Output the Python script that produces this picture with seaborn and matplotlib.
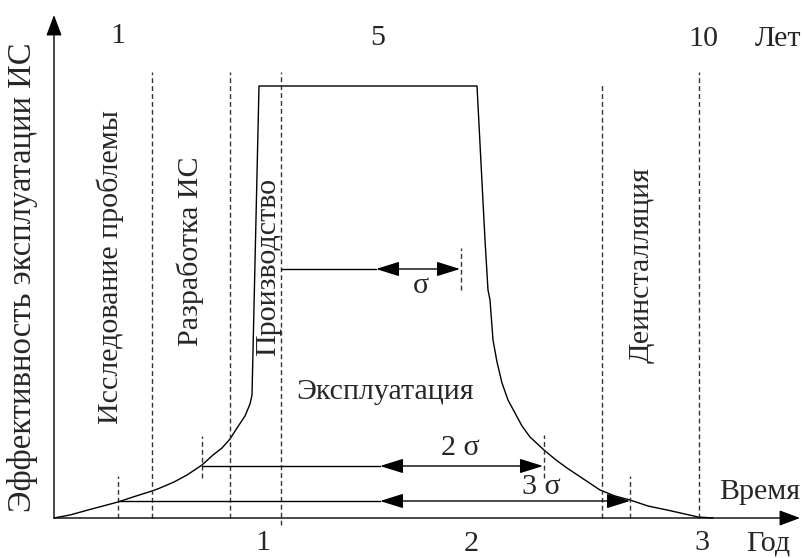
# Life cycle of an information system: effectiveness over time
import matplotlib
matplotlib.use('Agg')
import matplotlib.pyplot as plt
import seaborn as sns
import pandas as pd

# Curve of effectiveness (t = time units, e = effectiveness units)
curve_t = [0, 16, 34, 49, 64, 79, 98, 106, 120, 133, 148, 159, 168, 176, 183, 191, 196, 198, 205,
           423, 431, 434, 436, 439, 443, 448, 454, 461, 468, 476, 490, 502, 513, 531, 546, 561,
           576, 594, 613, 631, 644, 659]
curve_e = [0, 3, 8, 12, 16, 21, 27, 30, 36, 43, 53, 63, 70, 79, 90, 102, 114, 123, 432,
           432, 278, 228, 218, 178, 156, 135, 118, 105, 92, 81, 68, 58, 50, 38, 28, 22,
           18, 12, 8, 4, 1, 0]

# Phase boundaries (long dashed lines): position, top
phase_t = [98, 176, 227, 548, 645]
phase_top = [446, 446, 446, 433, 446]

# Sigma markers (short dashed ticks): position, bottom, top
tick_t = [64, 148, 407, 490, 576]
tick_lo = [0, 40, 228, 40, 0]
tick_hi = [42, 82, 270, 83, 42]

# Sigma arrows: start of plain line, arrow left tip, arrow right tip, level
sig_start = [227, 148, 64]
sig_left = [322, 326, 326]
sig_right = [406, 489, 576]
sig_level = [249, 52, 17]
sig_labels = ['σ', '2 σ', '3 σ']
sig_label_pos = [(367, 232), (406, 70), (487, 31)]

# Phase names (vertical) and other texts
phase_names = ['Исследование проблемы', 'Разработка ИС', 'Производство', 'Деинсталляция']
phase_name_pos = [(56, 251), (136, 267), (214, 251), (588, 253)]
years_top = ['1', '5', '10', 'Лет']
years_top_pos = [(64, 482), (324, 480), (649, 479), (724, 479)]
years_bottom = ['1', '2', '3', 'Год']
years_bottom_pos = [(209, -38), (417, -39), (648, -38), (714, -38)]

sns.set_style('white')
plt.rcParams['font.family'] = ['Liberation Serif', 'DejaVu Serif']

fig = plt.figure(figsize=(8.05, 5.58), dpi=100)
ax = fig.add_axes([0, 0, 1, 1])
ax.set_xlim(-54, 751)
ax.set_ylim(-40, 518)
ax.axis('off')

fs = 21.6
dash = (0, (3.5, 2.2))

# Main curve
df = pd.DataFrame({'t': curve_t, 'e': curve_e})
sns.lineplot(data=df, x='t', y='e', sort=False, estimator=None, color='black', lw=1, ax=ax)

# Coordinate axes with arrows
ax.annotate('', xy=(0, 503), xytext=(0, 0),
            arrowprops=dict(arrowstyle='-|>,head_length=0.8,head_width=0.3', mutation_scale=16,
                            color='black', lw=1, shrinkA=0, shrinkB=0))
ax.annotate('', xy=(746, 0), xytext=(0, 0),
            arrowprops=dict(arrowstyle='-|>,head_length=0.8,head_width=0.3', mutation_scale=16,
                            color='black', lw=1, shrinkA=0, shrinkB=0))

# Dashed lines
for t, top in zip(phase_t, phase_top):
    lo = -7 if t == 227 else 0
    ax.plot([t, t], [lo, top], color='#333333', lw=1, linestyle=dash)
for t, lo, hi in zip(tick_t, tick_lo, tick_hi):
    ax.plot([t, t], [lo, hi], color='#333333', lw=1, linestyle=dash)

# Sigma arrows
for s, l, r, y in zip(sig_start, sig_left, sig_right, sig_level):
    ax.plot([s, l], [y, y], color='black', lw=1)
    ax.annotate('', xy=(r, y), xytext=(l, y),
                arrowprops=dict(arrowstyle='<|-|>,head_length=0.8,head_width=0.25', mutation_scale=18,
                                color='black', lw=1, shrinkA=0, shrinkB=0))
for lab, (x, y) in zip(sig_labels, sig_label_pos):
    ax.text(x, y, lab, fontsize=fs, ha='center', va='center')

# Texts
for lab, (x, y) in zip(phase_names, phase_name_pos):
    ax.text(x, y, lab, fontsize=fs, rotation=90, ha='center', va='center')
ax.text(331, 126, 'Эксплуатация', fontsize=fs, ha='center', va='center')
ax.text(-31, 241, 'Эффективность эксплуатации ИС', fontsize=23.5, rotation=90, ha='center', va='center')
ax.text(706, 26, 'Время', fontsize=fs, ha='center', va='center')
for lab, (x, y) in zip(years_top, years_top_pos):
    ax.text(x, y, lab, fontsize=fs, ha='center', va='center')
for lab, (x, y) in zip(years_bottom, years_bottom_pos):
    ax.text(x, y, lab, fontsize=fs, ha='center', va='bottom')

fig.savefig('out.png', dpi=100, facecolor='white')
